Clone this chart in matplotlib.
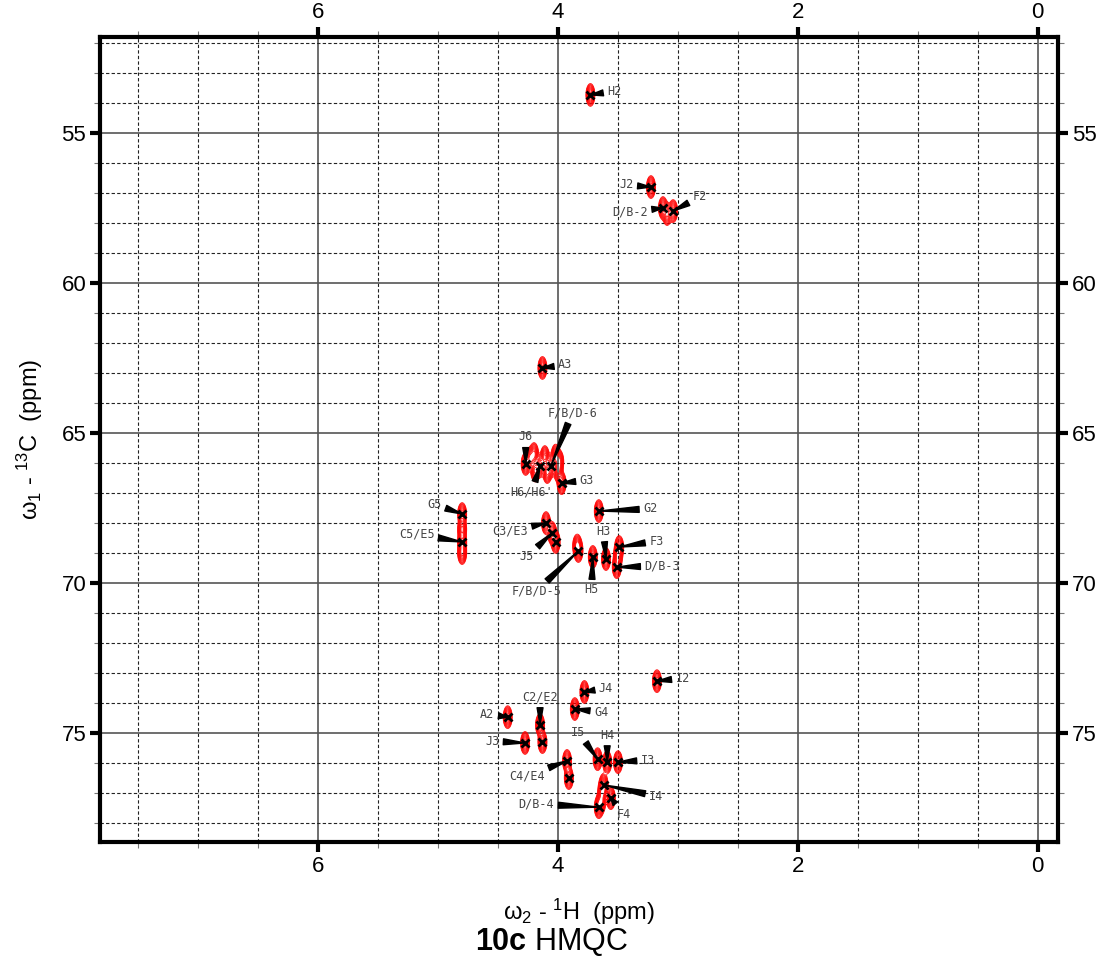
import numpy as np
import matplotlib
matplotlib.use("Agg")
import matplotlib.pyplot as plt
from matplotlib.ticker import MultipleLocator

plt.rcParams["mathtext.fontset"] = "custom"
plt.rcParams["mathtext.rm"] = "Liberation Sans"
plt.rcParams["mathtext.it"] = "Liberation Sans:italic"
plt.rcParams["mathtext.bf"] = "Liberation Sans:bold"
plt.rcParams["mathtext.default"] = "regular"

# ---------------- data ----------------
# cross-peak positions (1H ppm, 13C ppm)
peak_labels = ["H2", "J2", "D/B-2", "F2", "A3", "J6", "H6/H6'", "F/B/D-6", "G3",
               "G5", "C5/E5", "G2", "C3/E3", "J5", "J5b", "F/B/D-5", "H5", "H3",
               "F3", "D/B-3", "I2", "J4", "G4", "A2", "C2/E2", "C2/E2b", "J3",
               "C4/E4", "C4/E4b", "I5", "H4", "I3", "I4", "F4", "D/B-4"]
peak_h = [3.73, 3.225, 3.125, 3.04, 4.13, 4.27, 4.15, 4.06, 3.97,
          4.80, 4.80, 3.66, 4.10, 4.05, 4.02, 3.83, 3.71, 3.60,
          3.49, 3.51, 3.175, 3.78, 3.86, 4.42, 4.15, 4.13, 4.275,
          3.925, 3.91, 3.67, 3.59, 3.50, 3.62, 3.56, 3.66]
peak_c = [53.73, 56.80, 57.50, 57.60, 62.83, 66.03, 66.10, 66.10, 66.67,
          67.70, 68.63, 67.60, 68.00, 68.33, 68.63, 68.93, 69.13, 69.20,
          68.80, 69.47, 73.27, 73.63, 74.20, 74.47, 74.73, 75.30, 75.33,
          75.93, 76.50, 75.87, 75.97, 75.97, 76.73, 77.17, 77.47]

# extra contour lobes (broad cluster / elongated peaks), ppm
blob_h = [4.23, 4.19, 4.11, 4.02, 4.20, 4.09, 4.00, 3.99,
          4.80, 3.84, 3.50, 3.63, 3.64, 3.09, 4.80]
blob_c = [65.85, 66.25, 65.80, 65.75, 65.70, 66.30, 66.25, 65.95,
          68.20, 68.75, 69.10, 76.95, 77.30, 57.70, 69.00]

# line widths of the cross peaks (ppm)
width_h = 0.016
width_c = 0.16

# annotation texts and label anchors (ppm)
ann_text = ["H2", "J2", "D/B-2", "F2", "A3", "J6", "H6/H6'", "F/B/D-6", "G3",
            "G5", "C5/E5", "G2", "C3/E3", "J5", "F/B/D-5", "H5", "H3",
            "F3", "D/B-3", "I2", "J4", "G4", "A2", "C2/E2", "J3",
            "C4/E4", "I5", "H4", "I3", "I4", "F4", "D/B-4"]
ann_peak = ["H2", "J2", "D/B-2", "F2", "A3", "J6", "H6/H6'", "F/B/D-6", "G3",
            "G5", "C5/E5", "G2", "C3/E3", "J5", "F/B/D-5", "H5", "H3",
            "F3", "D/B-3", "I2", "J4", "G4", "A2", "C2/E2", "J3",
            "C4/E4", "I5", "H4", "I3", "I4", "F4", "D/B-4"]
ann_h = [3.53, 3.43, 3.40, 2.82, 3.94, 4.27, 4.22, 3.88, 3.76,
         5.03, 5.18, 3.23, 4.40, 4.26, 4.18, 3.72, 3.62,
         3.18, 3.13, 2.96, 3.60, 3.64, 4.59, 4.15, 4.55,
         4.26, 3.83, 3.59, 3.25, 3.18, 3.45, 4.18]
ann_c = [53.60, 56.73, 57.63, 57.13, 62.73, 65.13, 66.97, 64.33, 66.57,
         67.37, 68.37, 67.53, 68.27, 69.13, 70.27, 70.23, 68.27,
         68.60, 69.43, 73.17, 73.50, 74.30, 74.37, 73.80, 75.27,
         76.43, 74.97, 75.07, 75.90, 77.10, 77.70, 77.37]

x_ticks = [0, 2, 4, 6]
y_ticks = [55, 60, 65, 70, 75]
x_lim = (7.82, -0.17)
y_lim = (78.63, 51.8)

# ---------------- figure ----------------
fig = plt.figure(figsize=(11.03, 9.67), dpi=100)
ax = fig.add_axes([0.0907, 0.1293, 0.8685, 0.8324])

# grid
for v in np.arange(0.0, 8.0, 0.5):
    if abs(v % 2) < 1e-9:
        ax.axvline(v, color="#555555", lw=1.2, zorder=0)
    else:
        ax.axvline(v, color="#222222", lw=0.8, ls=(0, (3, 2)), zorder=0)
for v in np.arange(52, 79, 1.0):
    if v % 5 == 0:
        ax.axhline(v, color="#555555", lw=1.2, zorder=0)
    else:
        ax.axhline(v, color="#222222", lw=0.8, ls=(0, (3, 2)), zorder=0)

# contour spectrum
gx = np.linspace(2.8, 5.1, 900)
gy = np.linspace(52.5, 78.3, 1400)
X, Y = np.meshgrid(gx, gy)
Z = np.zeros_like(X)
for h, c in zip(peak_h + blob_h, peak_c + blob_c):
    Z += np.exp(-((X - h) ** 2) / (2 * width_h ** 2) - ((Y - c) ** 2) / (2 * width_c ** 2))
levels = [0.06, 0.09, 0.13, 0.18, 0.25, 0.33, 0.43, 0.55, 0.7, 0.88]
ax.contour(X, Y, Z, levels=levels, colors="red", linewidths=0.55, zorder=2)

# peak crosses
ax.plot(peak_h, peak_c, ls="none", marker="x", color="black", ms=6, mew=2, zorder=4)

# annotations
pos = dict(zip(peak_labels, zip(peak_h, peak_c)))
for t, p, lh, lc in zip(ann_text, ann_peak, ann_h, ann_c):
    ax.annotate(t, xy=pos[p], xytext=(lh, lc), fontsize=8.5,
                family="DejaVu Sans Mono", color="#444444",
                ha="center", va="center", zorder=5,
                arrowprops=dict(arrowstyle="wedge,tail_width=0.5,shrink_factor=0.5",
                                color="black", shrinkA=1, shrinkB=0))

ax.set_xlim(*x_lim)
ax.set_ylim(*y_lim)
ax.set_xticks(x_ticks)
ax.set_yticks(y_ticks)
ax.xaxis.set_minor_locator(MultipleLocator(0.5))
ax.yaxis.set_minor_locator(MultipleLocator(1))
ax.tick_params(which="both", direction="out", top=True, right=True,
               labeltop=True, labelright=True)
ax.tick_params(which="major", length=7, width=3, labelsize=16, color="black", pad=3)
ax.tick_params(which="minor", length=4, width=0.8, color="#777777")
for lab in ax.get_xticklabels() + ax.get_yticklabels():
    lab.set_family("Liberation Sans")
for s in ax.spines.values():
    s.set_linewidth(3)

ax.set_xlabel("\u03c9$_2$ - $^1$H  (ppm)", fontsize=17, family="Liberation Sans", labelpad=14)
ax.set_ylabel("\u03c9$_1$ - $^{13}$C  (ppm)", fontsize=17, family="Liberation Sans", labelpad=12)

fig.text(0.5, 0.026, r"$\mathbf{10c}$ HMQC", ha="center", va="center", fontsize=22,
         family="Liberation Sans")

fig.savefig("out.png", dpi=100)
